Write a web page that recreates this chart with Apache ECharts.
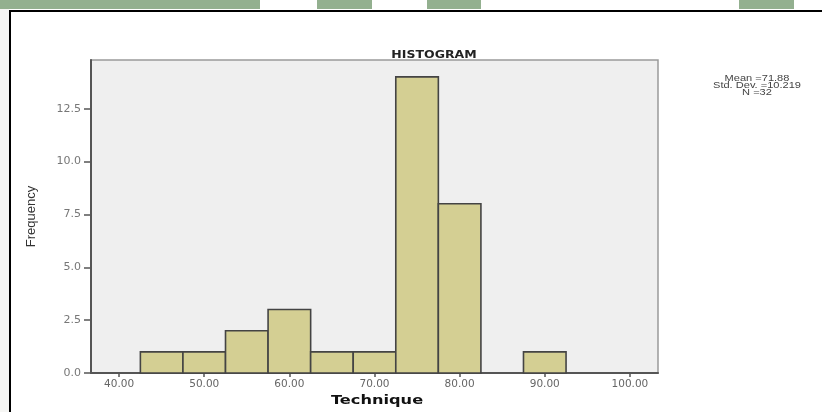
<!DOCTYPE html>
<html>
<head>
<meta charset="utf-8">
<script src="https://cdn.jsdelivr.net/npm/echarts@6/dist/echarts.min.js"></script>
<style>
html,body{margin:0;padding:0;background:#fff;}
#chart{width:822px;height:412px;}
</style>
</head>
<body>
<div id="chart"></div>
<script>
// ---- data ----
const binCenters = [45, 50, 55, 60, 65, 70, 75, 80, 90];
const frequencies = [1, 1, 2, 3, 1, 1, 14, 8, 1];
const binWidth = 5;
const xTicks = [40, 50, 60, 70, 80, 90, 100];
const yTicks = [0, 2.5, 5, 7.5, 10, 12.5];
const chartTitle = 'HISTOGRAM';
const xName = 'Technique';
const yName = 'Frequency';
const statsLines = ['Mean =71.88', 'Std. Dev. =10.219', 'N =32'];

const histData = binCenters.map((c, i) => [c - binWidth / 2, c + binWidth / 2, frequencies[i]]);

const chart = echarts.init(document.getElementById('chart'), null, {renderer: 'canvas'});

const greenBlocks = [[0, 260], [317, 372], [427, 481], [739, 794]];
const graphics = [];
greenBlocks.forEach(b => graphics.push({
  type: 'rect', left: b[0], top: 0, z: -10,
  shape: {width: b[1] - b[0], height: 9},
  style: {fill: '#93b08f'}
}));
graphics.push({
  type: 'rect', left: 0, top: 0, z: -20, silent: true,
  shape: {width: 9, height: 412}, style: {fill: '#f6f6f4'}
});
graphics.push({
  type: 'rect', x: 10, y: 11, z: -5,
  shape: {width: 900, height: 500},
  style: {fill: 'none', stroke: '#000', lineWidth: 2}
});
graphics.push({
  type: 'text', x: 434, y: 55, scaleX: 1.25,
  style: {text: chartTitle, font: 'bold 10px "DejaVu Sans"', fill: '#222', align: 'center', verticalAlign: 'middle'}
});
graphics.push({
  type: 'text', x: 377, y: 401, scaleX: 1.35,
  style: {text: xName, font: 'bold 12px "DejaVu Sans"', fill: '#111', align: 'center', verticalAlign: 'middle'}
});
statsLines.forEach((t, i) => graphics.push({
  type: 'text', x: 757, y: 79 + i * 7, scaleX: 1.3,
  style: {text: t, font: '8.5px "Liberation Sans"', fill: '#444', align: 'center', verticalAlign: 'middle'}
}));

const option = {
  animation: false,
  backgroundColor: '#ffffff',
  grid: {
    left: 91, top: 60, right: 164, bottom: 39,
    show: true, backgroundColor: '#efefef', borderColor: '#9a9a9a', borderWidth: 1.5
  },
  xAxis: {
    type: 'value', min: 36.7, max: 103.3,
    axisLine: {show: true, lineStyle: {color: '#555', width: 2}},
    axisTick: {show: true, customValues: xTicks, length: 4, lineStyle: {color: '#555', width: 1.5}},
    axisLabel: {customValues: xTicks, formatter: v => v.toFixed(2), color: '#666', fontFamily: 'DejaVu Sans', fontSize: 10.5, margin: 6},
    splitLine: {show: false}
  },
  yAxis: {
    type: 'value', min: 0, max: 14.8,
    name: yName, nameLocation: 'middle', nameRotate: 90, nameGap: 53,
    nameTextStyle: {color: '#333', fontFamily: 'Liberation Sans', fontSize: 13},
    axisLine: {show: true, lineStyle: {color: '#555', width: 2}},
    axisTick: {show: true, customValues: yTicks, length: 7, lineStyle: {color: '#555', width: 1.5}},
    axisLabel: {customValues: yTicks, formatter: v => v.toFixed(1), color: '#777', fontFamily: 'DejaVu Sans', fontSize: 11, margin: 10},
    splitLine: {show: false}
  },
  graphic: graphics,
  series: [{
    type: 'custom',
    data: histData,
    encode: {x: [0, 1], y: 2},
    renderItem: function (params, api) {
      const p0 = api.coord([api.value(0), 0]);
      const p1 = api.coord([api.value(1), api.value(2)]);
      return {
        type: 'rect',
        shape: {x: p0[0], y: p1[1], width: p1[0] - p0[0], height: p0[1] - p1[1]},
        style: {fill: '#d4cf93', stroke: '#444', lineWidth: 1.6}
      };
    }
  }]
};
chart.setOption(option);
</script>
</body>
</html>
